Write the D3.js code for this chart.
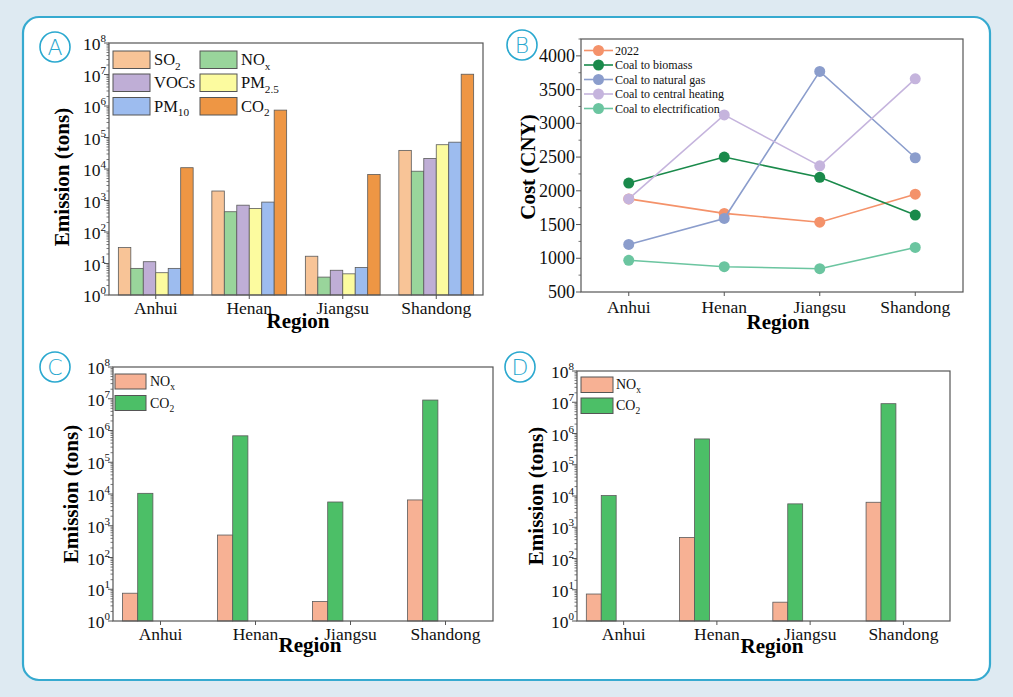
<!DOCTYPE html>
<html>
<head>
<meta charset="UTF-8">
<title>Emission and cost by region</title>
<script src="https://d3js.org/d3.v7.min.js"></script>
<style>
  body { margin: 0; background: #deeaf2; }
  svg { display: block; font-family: "Liberation Serif", "Times New Roman", serif; }
</style>
</head>
<body>
<script>
// ---- data ----
var regions = ["Anhui", "Henan", "Jiangsu", "Shandong"];

// panel A: emissions by pollutant (tons)
var pollutants = ["SO_2", "NO_x", "VOCs", "PM_2.5", "PM_10", "CO_2"];
var so2  = [32, 2000, 17, 39000];
var nox  = [7, 440, 3.7, 8500];
var vocs = [11.4, 710, 6.1, 21500];
var pm25 = [5.1, 560, 4.7, 59000];
var pm10 = [7, 890, 7.5, 71000];
var co2  = [11000, 740000, 6700, 1.02e7];

// panel B: cost (CNY)
var scenarios = ["2022", "Coal to biomass", "Coal to natural gas", "Coal to central heating", "Coal to electrification"];
var cost2022    = [1880, 1665, 1535, 1950];
var costBiomass = [2115, 2500, 2200, 1640];
var costGas     = [1205, 1590, 3770, 2490];
var costHeating = [1880, 3125, 2370, 3660];
var costElec    = [970, 875, 845, 1160];
var costTicks   = [500, 1000, 1500, 2000, 2500, 3000, 3500, 4000];

// panel C and D
var gases = ["NO_x", "CO_2"];
var noxC = [7.5, 510, 4.1, 6500];
var co2C = [10500, 680000, 5600, 9.1e6];
var noxD = [7.3, 470, 4.0, 6300];
var co2D = [10300, 670000, 5600, 9.0e6];

var logExps = [0, 1, 2, 3, 4, 5, 6, 7, 8];

// ---- helpers ----
var svg = d3.select("body").append("svg")
    .attr("width", 1013)
    .attr("height", 697);

svg.append("rect").attr("width", 1013).attr("height", 697).attr("fill", "#deeaf2");
svg.append("rect")
    .attr("x", 23).attr("y", 17).attr("width", 967).attr("height", 663).attr("rx", 16)
    .attr("fill", "#fff").attr("stroke", "#36aad0").attr("stroke-width", 2.2);

// "SO_2" -> SO with subscript 2
function subText(sel, label, size) {
  var parts = label.split("_");
  sel.append("tspan").text(parts[0]);
  if (parts.length > 1) {
    sel.append("tspan").attr("font-size", size * 0.68).attr("dy", size * 0.28).text(parts[1]);
  }
}

function panelLetter(cx, cy, letter) {
  svg.append("circle").attr("cx", cx).attr("cy", cy).attr("r", 15)
      .attr("fill", "none").attr("stroke", "#2aa8cf").attr("stroke-width", 1.6);
  svg.append("text").attr("x", cx).attr("y", cy + 8)
      .attr("text-anchor", "middle")
      .attr("font-family", "'DejaVu Sans', sans-serif")
      .attr("font-weight", 300)
      .attr("font-size", 22).attr("fill", "#2aa8cf").text(letter);
}

function frame(box) {
  svg.append("rect").attr("x", box.x0).attr("y", box.y0)
      .attr("width", box.x1 - box.x0).attr("height", box.y1 - box.y0)
      .attr("fill", "none").attr("stroke", "#555").attr("stroke-width", 1.2);
}

function titles(box, xt, yt, yText) {
  svg.append("text").attr("x", xt[0]).attr("y", xt[1])
      .attr("text-anchor", "middle").attr("font-weight", "bold").attr("font-size", 21)
      .text("Region");
  svg.append("text")
      .attr("transform", "translate(" + yt[0] + "," + yt[1] + ") rotate(-90)")
      .attr("text-anchor", "middle").attr("font-weight", "bold").attr("font-size", 21)
      .text(yText);
}

function xCategoryAxis(box, centers, labelDy) {
  var g = svg.append("g");
  regions.forEach(function(r) {
    var cx = centers(r);
    g.append("line").attr("x1", cx).attr("x2", cx).attr("y1", box.y1).attr("y2", box.y1 + 4)
        .attr("stroke", "#555").attr("stroke-width", 1);
    g.append("text").attr("x", cx).attr("y", box.y1 + labelDy)
        .attr("text-anchor", "middle").attr("font-size", 17.5).attr("fill", "#111").text(r);
  });
}

function logYAxis(box, y) {
  var g = svg.append("g");
  logExps.forEach(function(e) {
    var v = Math.pow(10, e);
    g.append("line").attr("x1", box.x0 - 5).attr("x2", box.x0).attr("y1", y(v)).attr("y2", y(v))
        .attr("stroke", "#555").attr("stroke-width", 1);
    var t = g.append("text").attr("x", box.x0 - 3).attr("y", y(v) + 7)
        .attr("text-anchor", "end").attr("font-size", 17.5).attr("fill", "#111");
    t.append("tspan").text("10");
    t.append("tspan").attr("font-size", 11).attr("dy", -8).text(e);
    if (e < 8) {
      for (var m = 2; m <= 9; m++) {
        var mv = m * v;
        g.append("line").attr("x1", box.x0 - 2.5).attr("x2", box.x0).attr("y1", y(mv)).attr("y2", y(mv))
            .attr("stroke", "#555").attr("stroke-width", 0.8);
      }
    }
  });
}

// grouped log bar chart
function logBars(box, seriesData, colors, nSlots) {
  var y = d3.scaleLog().domain([1, 1e8]).range([box.y1, box.y0]);
  var x = d3.scaleBand().domain(regions).range([box.x0, box.x1]).paddingInner(0.2).paddingOuter(0.1);
  var xs = d3.scaleBand().domain(d3.range(nSlots)).range([0, x.bandwidth()]);

  seriesData.forEach(function(vals, si) {
    svg.append("g").selectAll("rect")
        .data(vals)
        .enter()
        .append("rect")
        .attr("x", function(d, i) { return x(regions[i]) + xs(si); })
        .attr("y", function(d) { return y(d); })
        .attr("width", xs.bandwidth())
        .attr("height", function(d) { return box.y1 - y(d); })
        .attr("fill", colors[si])
        .attr("stroke", "#5a5a5a").attr("stroke-width", 0.8);
  });

  frame(box);
  logYAxis(box, y);
  xCategoryAxis(box, function(r) { return x(r) + x.bandwidth() / 2; }, 19);
}

function swatchLegend(items, colors, positions, sw, sh, fontSize, textGap) {
  items.forEach(function(label, i) {
    var p = positions[i];
    svg.append("rect").attr("x", p[0]).attr("y", p[1]).attr("width", sw).attr("height", sh)
        .attr("fill", colors[i]).attr("stroke", "#555").attr("stroke-width", 1);
    var t = svg.append("text").attr("x", p[0] + sw + textGap).attr("y", p[1] + sh * 0.5 + fontSize * 0.33)
        .attr("font-size", fontSize).attr("fill", "#111");
    subText(t, label, fontSize);
  });
}

// ---- panel A ----
var boxA = { x0: 109, x1: 483, y0: 43, y1: 295 };
var colorsA = ["#f8c497", "#99d59b", "#bfaed6", "#fcfb9f", "#9dbcef", "#ee9644"];
logBars(boxA, [so2, nox, vocs, pm25, pm10, co2], colorsA, 6);
swatchLegend(pollutants, colorsA,
    [[113, 51], [200, 51], [113, 74], [200, 74], [113, 97.5], [200, 97.5]],
    37, 17.5, 16.5, 4);
titles(boxA, [298, 328], [69, 177], "Emission (tons)");
panelLetter(55, 47, "A");

// ---- panel B ----
var boxB = { x0: 581, x1: 963, y0: 39, y1: 292 };
var colorsB = ["#f4926a", "#1a8a4b", "#8b9dcc", "#c5b4dd", "#6bc5a0"];
var yB = d3.scaleLinear().domain([500, 4250]).range([boxB.y1, boxB.y0]);
var xB = d3.scalePoint().domain(regions).range([boxB.x0, boxB.x1]).padding(0.5);
var costSeries = [cost2022, costBiomass, costGas, costHeating, costElec];

frame(boxB);
var gyB = svg.append("g");
d3.range(500, 4251, 250).forEach(function(v) {
  var major = v % 500 === 0;
  gyB.append("line").attr("x1", boxB.x0 - (major ? 5 : 2.5)).attr("x2", boxB.x0)
      .attr("y1", yB(v)).attr("y2", yB(v)).attr("stroke", "#555").attr("stroke-width", major ? 1 : 0.8);
});
costTicks.forEach(function(v) {
  gyB.append("text").attr("x", boxB.x0 - 6).attr("y", yB(v) + 6)
      .attr("text-anchor", "end").attr("font-size", 18).attr("fill", "#111").text(v);
});
xCategoryAxis(boxB, xB, 20.5);

var line = d3.line()
    .x(function(d, i) { return xB(regions[i]); })
    .y(function(d) { return yB(d); });

costSeries.forEach(function(vals, si) {
  svg.append("path").datum(vals).attr("d", line)
      .attr("fill", "none").attr("stroke", colorsB[si]).attr("stroke-width", 1.6);
  svg.append("g").selectAll("circle")
      .data(vals)
      .enter()
      .append("circle")
      .attr("cx", function(d, i) { return xB(regions[i]); })
      .attr("cy", function(d) { return yB(d); })
      .attr("r", 5.5)
      .attr("fill", colorsB[si]);
});

scenarios.forEach(function(name, i) {
  var ly = 50.5 + i * 14.5;
  svg.append("line").attr("x1", 584).attr("x2", 613).attr("y1", ly).attr("y2", ly)
      .attr("stroke", colorsB[i]).attr("stroke-width", 1.6);
  svg.append("circle").attr("cx", 598.5).attr("cy", ly).attr("r", 5.5).attr("fill", colorsB[i]);
  svg.append("text").attr("x", 615).attr("y", ly + 4.3)
      .attr("font-size", 12).attr("fill", "#111").text(name);
});
titles(boxB, [778, 329], [535, 167], "Cost (CNY)");
panelLetter(522, 45, "B");

// ---- panel C ----
var colorsCD = ["#f7b194", "#4cbf67"];
var boxC = { x0: 113, x1: 493, y0: 367, y1: 621 };
logBars(boxC, [noxC, co2C], colorsCD, 5);
swatchLegend(gases, colorsCD, [[115, 374], [115, 395.5]], 31, 15, 14, 4);
titles(boxC, [310, 652], [78, 494], "Emission (tons)");
panelLetter(55, 367, "C");

// ---- panel D ----
var boxD = { x0: 577, x1: 950, y0: 371, y1: 621 };
logBars(boxD, [noxD, co2D], colorsCD, 5);
swatchLegend(gases, colorsCD, [[581, 377], [581, 398]], 32, 15.5, 14, 3);
titles(boxD, [772, 653], [543, 496], "Emission (tons)");
panelLetter(520, 367, "D");
</script>
</body>
</html>
